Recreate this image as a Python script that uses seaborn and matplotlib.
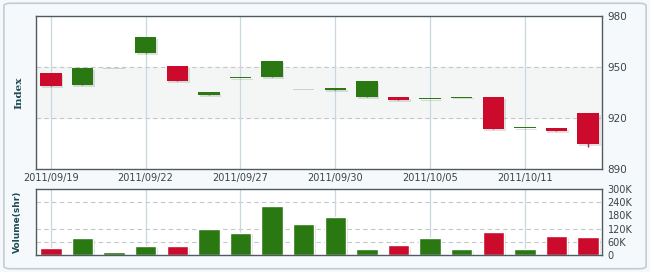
import matplotlib
matplotlib.use("Agg")
import matplotlib.pyplot as plt
from matplotlib.patches import FancyBboxPatch
import matplotlib.patheffects as pe
import seaborn as sns
import numpy as np
import pandas as pd

# ---- data ----
dates = ["2011/09/19", "2011/09/20", "2011/09/21", "2011/09/22", "2011/09/23",
         "2011/09/26", "2011/09/27", "2011/09/28", "2011/09/29", "2011/09/30",
         "2011/10/03", "2011/10/04", "2011/10/05", "2011/10/06", "2011/10/07",
         "2011/10/11", "2011/10/12", "2011/10/13"]
opens = [946.5, 939.4, 949.4, 958.2, 950.6, 933.5, 943.5, 944.1, 936.5,
         936.5, 932.4, 932.4, 931.2, 932.0, 932.4, 914.1, 914.1, 922.9]
closes = [938.8, 949.4, 949.4, 967.6, 941.8, 935.3, 943.5, 953.5, 936.5,
          937.6, 941.8, 930.6, 931.2, 932.0, 913.5, 914.1, 912.4, 904.7]
lows = [938.8, 939.4, 949.4, 958.2, 941.8, 933.5, 943.5, 944.1, 936.5,
        936.5, 932.4, 930.6, 931.2, 932.0, 913.5, 914.1, 912.4, 903.0]
highs = [946.5, 949.4, 949.4, 967.6, 950.6, 935.3, 943.5, 953.5, 936.5,
         937.6, 941.8, 932.4, 931.2, 932.0, 932.4, 914.1, 914.1, 922.9]
faint = [False, False, True, False, False, False, False, False, True,
         False, False, False, False, False, False, False, False, False]
volumes = [32000, 77000, 14000, 41000, 41000, 120000, 101000, 224000, 142000,
           173000, 27000, 45000, 77000, 27000, 105000, 27000, 86000, 82000]
direction = ["down", "up", "up", "up", "down", "up", "up", "up", "up",
             "up", "up", "down", "up", "up", "down", "up", "down", "down"]
xtick_idx = [0, 3, 6, 9, 12, 15]
price_ticks = [890, 920, 950, 980]
vol_ticks = [0, 60000, 120000, 180000, 240000, 300000]
vol_labels = ["0", "60K", "120K", "180K", "240K", "300K"]

RED = "#cc0b2c"
GREEN = "#2a7812"
FAINT = "#c6d6c6"
GRIDV = "#c9d8de"
FRAME = "#4f5b5e"
TXT = "#3a4448"

sns.set_theme(style="white")
plt.rcParams["font.family"] = ["DejaVu Sans"]

fig = plt.figure(figsize=(6.5, 2.72), dpi=100)
fig.patch.set_facecolor("#f6f9fb")
fig.patches.append(FancyBboxPatch((0.006, 0.012), 0.988, 0.976,
                                  boxstyle="round,pad=0,rounding_size=0.01",
                                  transform=fig.transFigure, facecolor="#f6f9fb",
                                  edgecolor="#c3cdd1", linewidth=1.2, zorder=-10))

L, R = 36 / 650, 602 / 650
ax = fig.add_axes([L, 1 - 169 / 272, R - L, (169 - 16) / 272])
axv = fig.add_axes([L, 1 - 255 / 272, R - L, (255 - 189) / 272])

n = len(dates)
x = np.arange(n)
xlim = (-0.47, 17.44)
shadow = [pe.SimplePatchShadow(offset=(1.2, -1.2), shadow_rgbFace="#888888", alpha=0.25),
          pe.Normal()]

# ---- price panel ----
ax.set_facecolor("white")
ax.axhspan(920, 950, color="#f4f6f6", zorder=0)
for yv in (920, 950):
    ax.axhline(yv, color="#c4c8ca", lw=0.8, ls=(0, (4, 3)), zorder=1)
for i in xtick_idx:
    ax.axvline(i, color=GRIDV, lw=0.9, zorder=1)

o = np.array(opens); c = np.array(closes)
bottoms = np.minimum(o, c)
heights = np.maximum(np.abs(c - o), 0.6)
cols = []
for k in range(n):
    if faint[k]:
        cols.append(FAINT)
    elif direction[k] == "up":
        cols.append(GREEN)
    else:
        cols.append(RED)
ax.vlines(x, lows, highs, colors=cols, lw=1, zorder=2)
bars = ax.bar(x, heights, bottom=bottoms - np.where(faint, 0.3, 0), width=0.68,
              color=cols, edgecolor="none", zorder=3)
for b, f in zip(bars, faint):
    if not f:
        b.set_path_effects(shadow)

ax.set_xlim(*xlim)
ax.set_ylim(890, 980)
ax.set_yticks(price_ticks)
ax.yaxis.tick_right()
ax.set_xticks(xtick_idx)
ax.set_xticklabels([dates[i] for i in xtick_idx])
ax.tick_params(axis="x", labelsize=7, colors=TXT, length=0, pad=3)
ax.tick_params(axis="y", labelsize=7.5, colors=TXT, length=0, pad=4)
ax.set_ylabel("Index", fontsize=7.5, fontweight="bold", color="#1d4a55",
              family="DejaVu Serif", labelpad=9)
ax.yaxis.set_label_position("left")
for s in ax.spines.values():
    s.set_color(FRAME); s.set_linewidth(1)
    s.set_visible(True)

# ---- volume panel ----
axv.set_facecolor("white")
for yv in (60000, 120000, 240000):
    axv.axhline(yv, color="#c4c8ca", lw=0.8, ls=(0, (4, 3)), zorder=0)
for i in xtick_idx:
    axv.axvline(i, color=GRIDV, lw=0.9, zorder=0)
df = pd.DataFrame({"i": x, "vol": volumes, "dir": direction})
sns.barplot(data=df, x="i", y="vol", hue="dir", palette={"up": GREEN, "down": RED},
            dodge=False, width=0.68, legend=False, ax=axv, saturation=1, zorder=2)
for p in axv.patches:
    p.set_path_effects(shadow)
axv.set_xlim(*xlim)
axv.set_ylim(0, 300000)
axv.set_yticks(vol_ticks)
axv.set_yticklabels(vol_labels)
axv.yaxis.tick_right()
axv.set_xticks([])
axv.set_xlabel("")
axv.tick_params(axis="y", labelsize=7, colors=TXT, length=0, pad=4)
axv.set_ylabel("Volume(shr)", fontsize=6.5, fontweight="bold", color="#1d4a55",
               labelpad=10)
axv.yaxis.set_label_position("left")
for s in axv.spines.values():
    s.set_color(FRAME); s.set_linewidth(1)
    s.set_visible(True)

fig.savefig("out.png", dpi=100, facecolor=fig.get_facecolor())
